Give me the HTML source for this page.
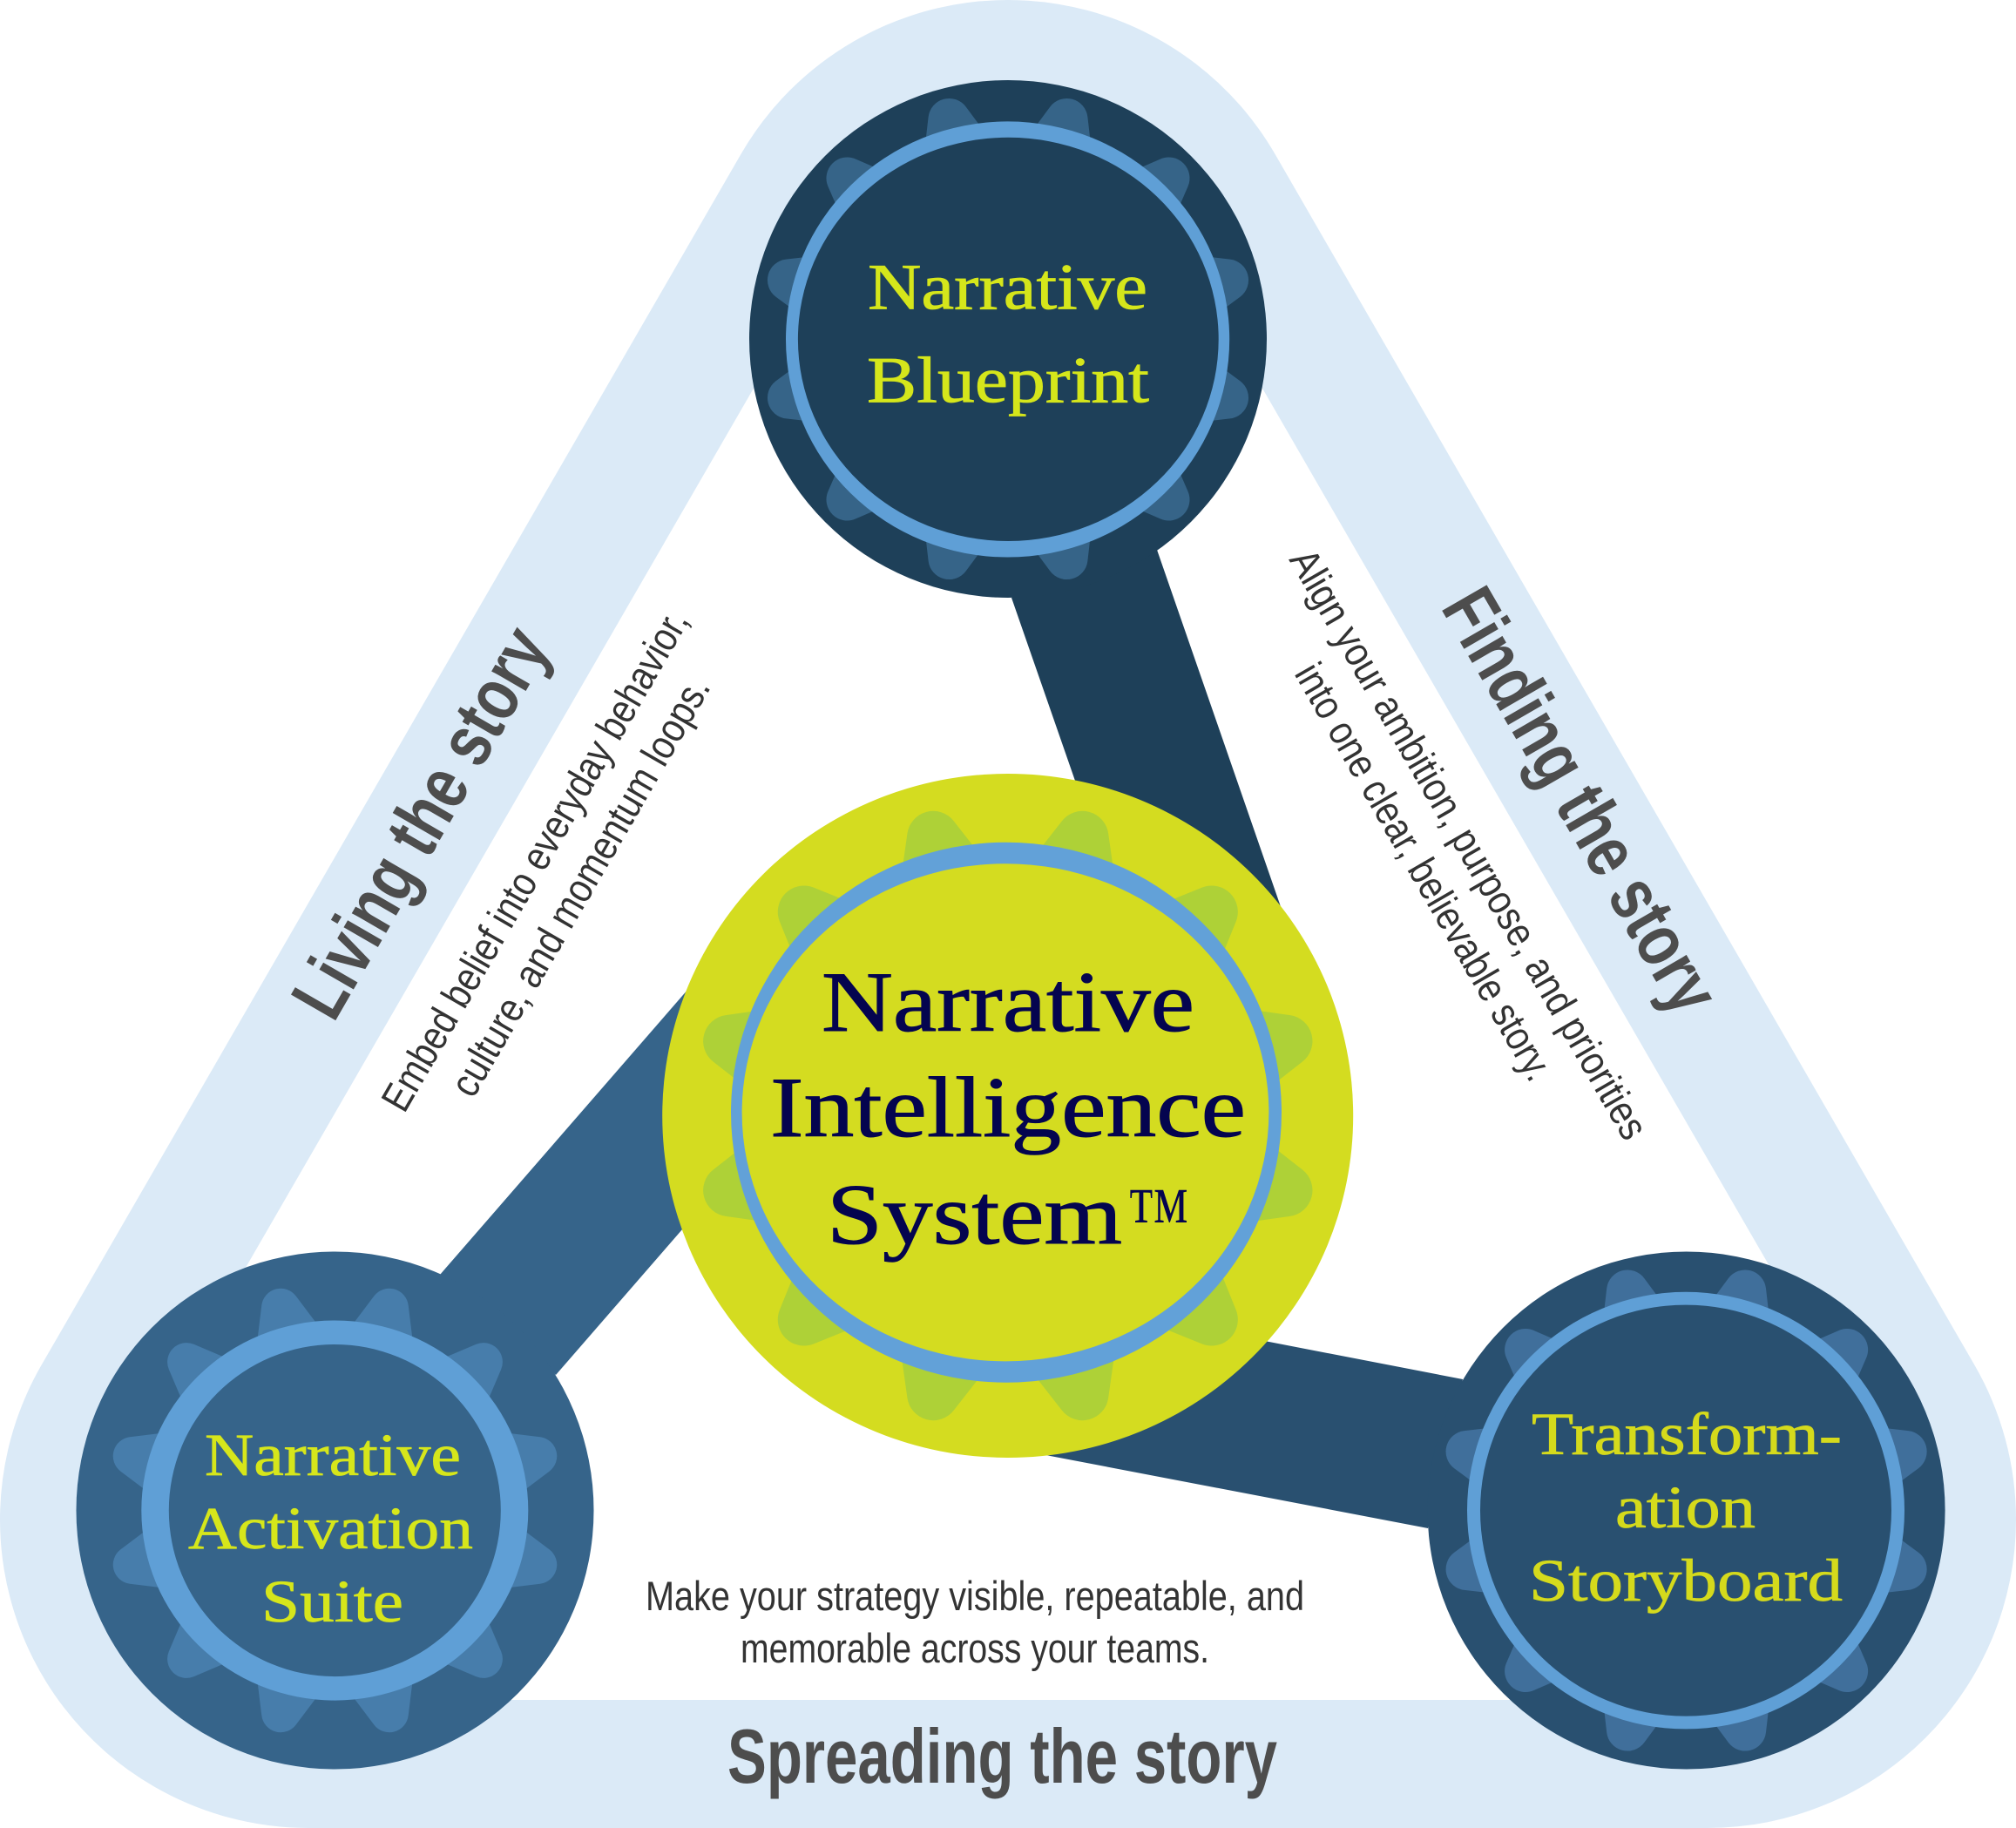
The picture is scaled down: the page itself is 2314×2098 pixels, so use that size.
<!DOCTYPE html>
<html>
<head>
<meta charset="utf-8">
<style>
html,body{margin:0;padding:0;background:#fff}
svg{display:block}
.n{font-family:"Liberation Serif",serif}
.h{font-family:"Liberation Sans",sans-serif;font-weight:bold;fill:#4d4d4d}
.s{font-family:"Liberation Sans",sans-serif;fill:#333}
</style>
</head>
<body>
<svg xmlns="http://www.w3.org/2000/svg" width="2314" height="2098" viewBox="0 0 2314 2098">
<defs>
<path id="t1" d="M-38,-230 L-22.3,-269.8 A24,24 0 0 1 22.3,-269.8 L38,-230Z"/>
<path id="t2" d="M-44.3,-190 L-20.4,-249.2 A22,22 0 0 1 20.4,-249.2 L44.3,-190Z"/>
<path id="t3" d="M-50,-290 L-27.6,-342.7 A30,30 0 0 1 27.6,-342.7 L50,-290Z"/>
<g id="g1"><use href="#t1" transform="rotate(15)"/><use href="#t1" transform="rotate(45)"/><use href="#t1" transform="rotate(75)"/><use href="#t1" transform="rotate(105)"/><use href="#t1" transform="rotate(135)"/><use href="#t1" transform="rotate(165)"/><use href="#t1" transform="rotate(195)"/><use href="#t1" transform="rotate(225)"/><use href="#t1" transform="rotate(255)"/><use href="#t1" transform="rotate(285)"/><use href="#t1" transform="rotate(315)"/><use href="#t1" transform="rotate(345)"/></g>
<g id="g2"><use href="#t2" transform="rotate(15)"/><use href="#t2" transform="rotate(45)"/><use href="#t2" transform="rotate(75)"/><use href="#t2" transform="rotate(105)"/><use href="#t2" transform="rotate(135)"/><use href="#t2" transform="rotate(165)"/><use href="#t2" transform="rotate(195)"/><use href="#t2" transform="rotate(225)"/><use href="#t2" transform="rotate(255)"/><use href="#t2" transform="rotate(285)"/><use href="#t2" transform="rotate(315)"/><use href="#t2" transform="rotate(345)"/></g>
<g id="g3"><use href="#t3" transform="rotate(15)"/><use href="#t3" transform="rotate(45)"/><use href="#t3" transform="rotate(75)"/><use href="#t3" transform="rotate(105)"/><use href="#t3" transform="rotate(135)"/><use href="#t3" transform="rotate(165)"/><use href="#t3" transform="rotate(195)"/><use href="#t3" transform="rotate(225)"/><use href="#t3" transform="rotate(255)"/><use href="#t3" transform="rotate(285)"/><use href="#t3" transform="rotate(315)"/><use href="#t3" transform="rotate(345)"/></g>
</defs>

<!-- outer band -->
<polygon points="1157,354 354,1744 1960,1744" fill="#dbeaf7" stroke="#dbeaf7" stroke-width="708" stroke-linejoin="round"/>
<polygon points="1157,354 354,1744 1960,1744" fill="#fff" stroke="#fff" stroke-width="414" stroke-linejoin="round"/>

<!-- connectors -->
<polygon points="1161,686 1328,631 1501,1130 1291,1060" fill="#1e4059"/>
<polygon points="505,1463 638,1578 830,1357 830,1089" fill="#36648a"/>
<polygon points="1679,1583 1639,1754 1195,1669 1400,1529" fill="#295070"/>

<!-- Blueprint node -->
<circle cx="1157" cy="389" r="297" fill="#1e4059"/>
<use href="#g1" transform="translate(1157,389)" fill="#366488"/>
<ellipse cx="1157" cy="389.4" rx="250" ry="240" fill="#1e4059"/>
<path fill="#5f9fd6" fill-rule="evenodd" d="M902,389.4a254.6,250 0 1 0 509.2,0a254.6,250 0 1 0 -509.2,0Z M915.9,389.4a241.4,231.6 0 1 0 482.8,0a241.4,231.6 0 1 0 -482.8,0Z"/>

<!-- Activation node -->
<circle cx="384.5" cy="1733.5" r="297" fill="#36648a"/>
<use href="#g2" transform="translate(384.5,1733.5)" fill="#477dab"/>
<circle cx="384.3" cy="1733.5" r="200" fill="#36648a"/>
<path fill="#5f9fd6" fill-rule="evenodd" d="M162.3,1733.5a222,218 0 1 0 444,0a222,218 0 1 0 -444,0Z M193.8,1733.5a190.5,190.5 0 1 0 381,0a190.5,190.5 0 1 0 -381,0Z"/>

<!-- Storyboard node -->
<circle cx="1935.6" cy="1733.5" r="297" fill="#295070"/>
<use href="#g1" transform="translate(1935.6,1733.5)" fill="#406f9b"/>
<circle cx="1935" cy="1733.6" r="240" fill="#295070"/>
<path fill="#5f9fd6" fill-rule="evenodd" d="M1684,1733.6a251,250.8 0 1 0 502,0a251,250.8 0 1 0 -502,0Z M1699,1733.6a236,236 0 1 0 472,0a236,236 0 1 0 -472,0Z"/>

<!-- Centre node -->
<ellipse cx="1156.7" cy="1280.5" rx="396.5" ry="392.5" fill="#d4dc20"/>
<use href="#g3" transform="translate(1156.8,1280.5)" fill="#aed137"/>
<ellipse cx="1155" cy="1277" rx="306" ry="295" fill="#d4dc20"/>
<path fill="#62a1d8" fill-rule="evenodd" d="M839,1276.7a316,310 0 1 0 632,0a316,310 0 1 0 -632,0Z M851.6,1276.7a302.4,285.5 0 1 0 604.8,0a302.4,285.5 0 1 0 -604.8,0Z"/>

<!-- Node labels -->
<g class="n" fill="#d5e61b" stroke="#d5e61b" stroke-width="0.8" font-size="75">
<text x="996" y="354.5" textLength="321" lengthAdjust="spacingAndGlyphs">Narrative</text>
<text x="995" y="461.5" textLength="324" lengthAdjust="spacingAndGlyphs">Blueprint</text>
</g>
<g class="n" fill="#d6e61b" stroke="#d6e61b" stroke-width="0.7" font-size="69">
<text x="235" y="1693" textLength="294" lengthAdjust="spacingAndGlyphs">Narrative</text>
<text x="216" y="1777" textLength="327" lengthAdjust="spacingAndGlyphs">Activation</text>
<text x="300" y="1861" textLength="163" lengthAdjust="spacingAndGlyphs">Suite</text>
</g>
<g class="n" fill="#d5da1c" stroke="#d5da1c" stroke-width="0.7" font-size="69">
<text x="1758" y="1669" textLength="356" lengthAdjust="spacingAndGlyphs">Transform-</text>
<text x="1854" y="1753" textLength="161" lengthAdjust="spacingAndGlyphs">ation</text>
<text x="1755" y="1837" textLength="360" lengthAdjust="spacingAndGlyphs">Storyboard</text>
</g>
<g class="n" fill="#04044f" stroke="#04044f" stroke-width="1" font-size="99">
<text x="943" y="1183" textLength="428" lengthAdjust="spacingAndGlyphs">Narrative</text>
<text x="884" y="1304" textLength="546" lengthAdjust="spacingAndGlyphs">Intelligence</text>
<text x="949" y="1427" textLength="339" lengthAdjust="spacingAndGlyphs">System</text>
<text x="1294" y="1428" textLength="71" lengthAdjust="spacingAndGlyphs" stroke="none" font-size="95">™</text>
</g>

<!-- Side titles -->
<text class="h" font-size="86" transform="translate(383,1175) rotate(-60)" textLength="500" lengthAdjust="spacingAndGlyphs">Living the story</text>
<text class="h" font-size="86" transform="translate(1653,697) rotate(60)" textLength="546" lengthAdjust="spacingAndGlyphs">Finding the story</text>
<text class="h" font-size="88" x="835" y="2046" textLength="631" lengthAdjust="spacingAndGlyphs">Spreading the story</text>

<!-- Descriptions -->
<g class="s" font-size="47">
<text transform="translate(464,1279) rotate(-60)" textLength="655" lengthAdjust="spacingAndGlyphs">Embed belief into everyday behavior,</text>
<text transform="translate(543,1262) rotate(-60)" textLength="547" lengthAdjust="spacingAndGlyphs">culture, and momentum loops.</text>
<text transform="translate(1479,642) rotate(60)" textLength="773" lengthAdjust="spacingAndGlyphs">Align your ambition, purpose, and priorities</text>
<text transform="translate(1485,773) rotate(60)" textLength="544" lengthAdjust="spacingAndGlyphs">into one clear, believable story.</text>
<text x="741" y="1848" textLength="756" lengthAdjust="spacingAndGlyphs">Make your strategy visible, repeatable, and</text>
<text x="850" y="1908" textLength="538" lengthAdjust="spacingAndGlyphs">memorable across your teams.</text>
</g>
</svg>
</body>
</html>
